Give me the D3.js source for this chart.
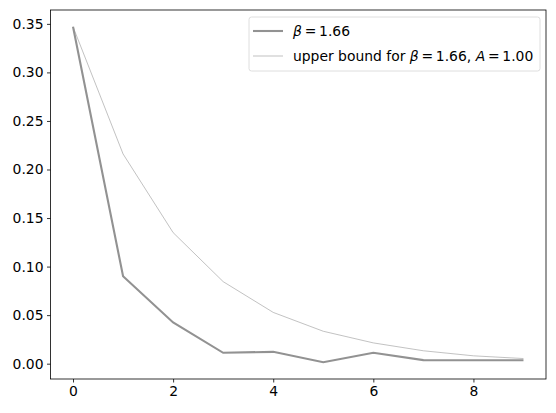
<!DOCTYPE html>
<html>
<head>
<meta charset="utf-8">
<script src="https://cdn.jsdelivr.net/npm/d3@7"></script>
<style>
  body { margin: 0; background: #fff; }
  svg text { font-family: "DejaVu Sans", sans-serif; }
</style>
</head>
<body>
<div id="chart-area"></div>
<script>
var steps = [0, 1, 2, 3, 4, 5, 6, 7, 8, 9];
var betaValues = [0.347, 0.090, 0.0425, 0.0112, 0.0122, 0.0015, 0.0112, 0.0037, 0.0035, 0.0035];
var boundValues = [0.347, 0.216, 0.135, 0.0845, 0.0528, 0.0334, 0.0214, 0.0133, 0.0081, 0.0053];
var xTicks = [0, 2, 4, 6, 8];
var yTicks = [0.00, 0.05, 0.10, 0.15, 0.20, 0.25, 0.30, 0.35];

var margins = { left: 50.5, right: 10, top: 10, bottom: 34 };
var W = 556, H = 413;
var width = W - margins.left - margins.right;
var height = H - margins.top - margins.bottom;

var svg = d3.select("#chart-area")
    .append("svg")
    .attr("width", W)
    .attr("height", H)
    .append("g")
    .attr("transform", "translate(" + margins.left + "," + margins.top + ")");

// matplotlib style 5% margins
var xMin = d3.min(steps), xMax = d3.max(steps);
var xPad = (xMax - xMin) * 0.05;
var allY = betaValues.concat(boundValues);
var yMin = d3.min(allY), yMax = d3.max(allY);
var yPad = (yMax - yMin) * 0.05;

var x = d3.scaleLinear().domain([xMin - xPad, xMax + xPad]).range([0, width]);
var y = d3.scaleLinear().domain([yMin - yPad, yMax + yPad]).range([height, 0]);

var xAxis = svg.append("g")
    .attr("transform", "translate(0," + height + ")")
    .call(d3.axisBottom(x).tickValues(xTicks).tickFormat(d3.format("d")).tickSize(3.5).tickPadding(3.5));
var yAxis = svg.append("g")
    .call(d3.axisLeft(y).tickValues(yTicks).tickFormat(d3.format(".2f")).tickSize(3.5).tickPadding(3.5));

[xAxis, yAxis].forEach(function(a) {
    a.select(".domain").remove();
    a.selectAll("line").attr("stroke", "#000").attr("stroke-width", 0.8);
    a.selectAll("text").attr("fill", "#000").style("font-size", "13.9px").style("font-family", "DejaVu Sans");
});

svg.append("rect")
    .attr("width", width).attr("height", height)
    .attr("fill", "none").attr("stroke", "#000").attr("stroke-width", 0.8);

var line = d3.line()
    .x(function(d, i) { return x(steps[i]); })
    .y(function(d) { return y(d); });

svg.append("path")
    .datum(boundValues)
    .attr("d", line)
    .attr("fill", "none")
    .attr("stroke", "#a8a8a8")
    .attr("stroke-width", 0.7);

svg.append("path")
    .datum(betaValues)
    .attr("d", line)
    .attr("fill", "none")
    .attr("stroke", "#929292")
    .attr("stroke-width", 2.1);

// legend
var lg = svg.append("g").attr("transform", "translate(" + (249 - margins.left) + "," + (17 - margins.top) + ")");
lg.append("rect")
    .attr("width", 291).attr("height", 54).attr("rx", 2.5)
    .attr("fill", "#fff").attr("fill-opacity", 0.8)
    .attr("stroke", "#d6d6d6").attr("stroke-width", 0.8);

var eq = "\u2009=\u2009";
var rows = [{ w: 2.1, c: "#929292" }, { w: 0.7, c: "#a8a8a8" }];
rows.forEach(function(r, i) {
    var yy = 14 + i * 25;
    lg.append("line")
        .attr("x1", 4).attr("x2", 34).attr("y1", yy).attr("y2", yy)
        .attr("stroke", r.c).attr("stroke-width", r.w);
    var t = lg.append("text")
        .attr("x", 44).attr("y", yy + 5)
        .style("font-size", "13.9px").attr("fill", "#000");
    if (i === 0) {
        t.append("tspan").attr("font-style", "italic").text("β");
        t.append("tspan").text(eq + "1.66");
    } else {
        t.append("tspan").text("upper bound for ");
        t.append("tspan").attr("font-style", "italic").text("β");
        t.append("tspan").text(eq + "1.66, ");
        t.append("tspan").attr("font-style", "italic").text("A");
        t.append("tspan").text(eq + "1.00");
    }
});
</script>
</body>
</html>
